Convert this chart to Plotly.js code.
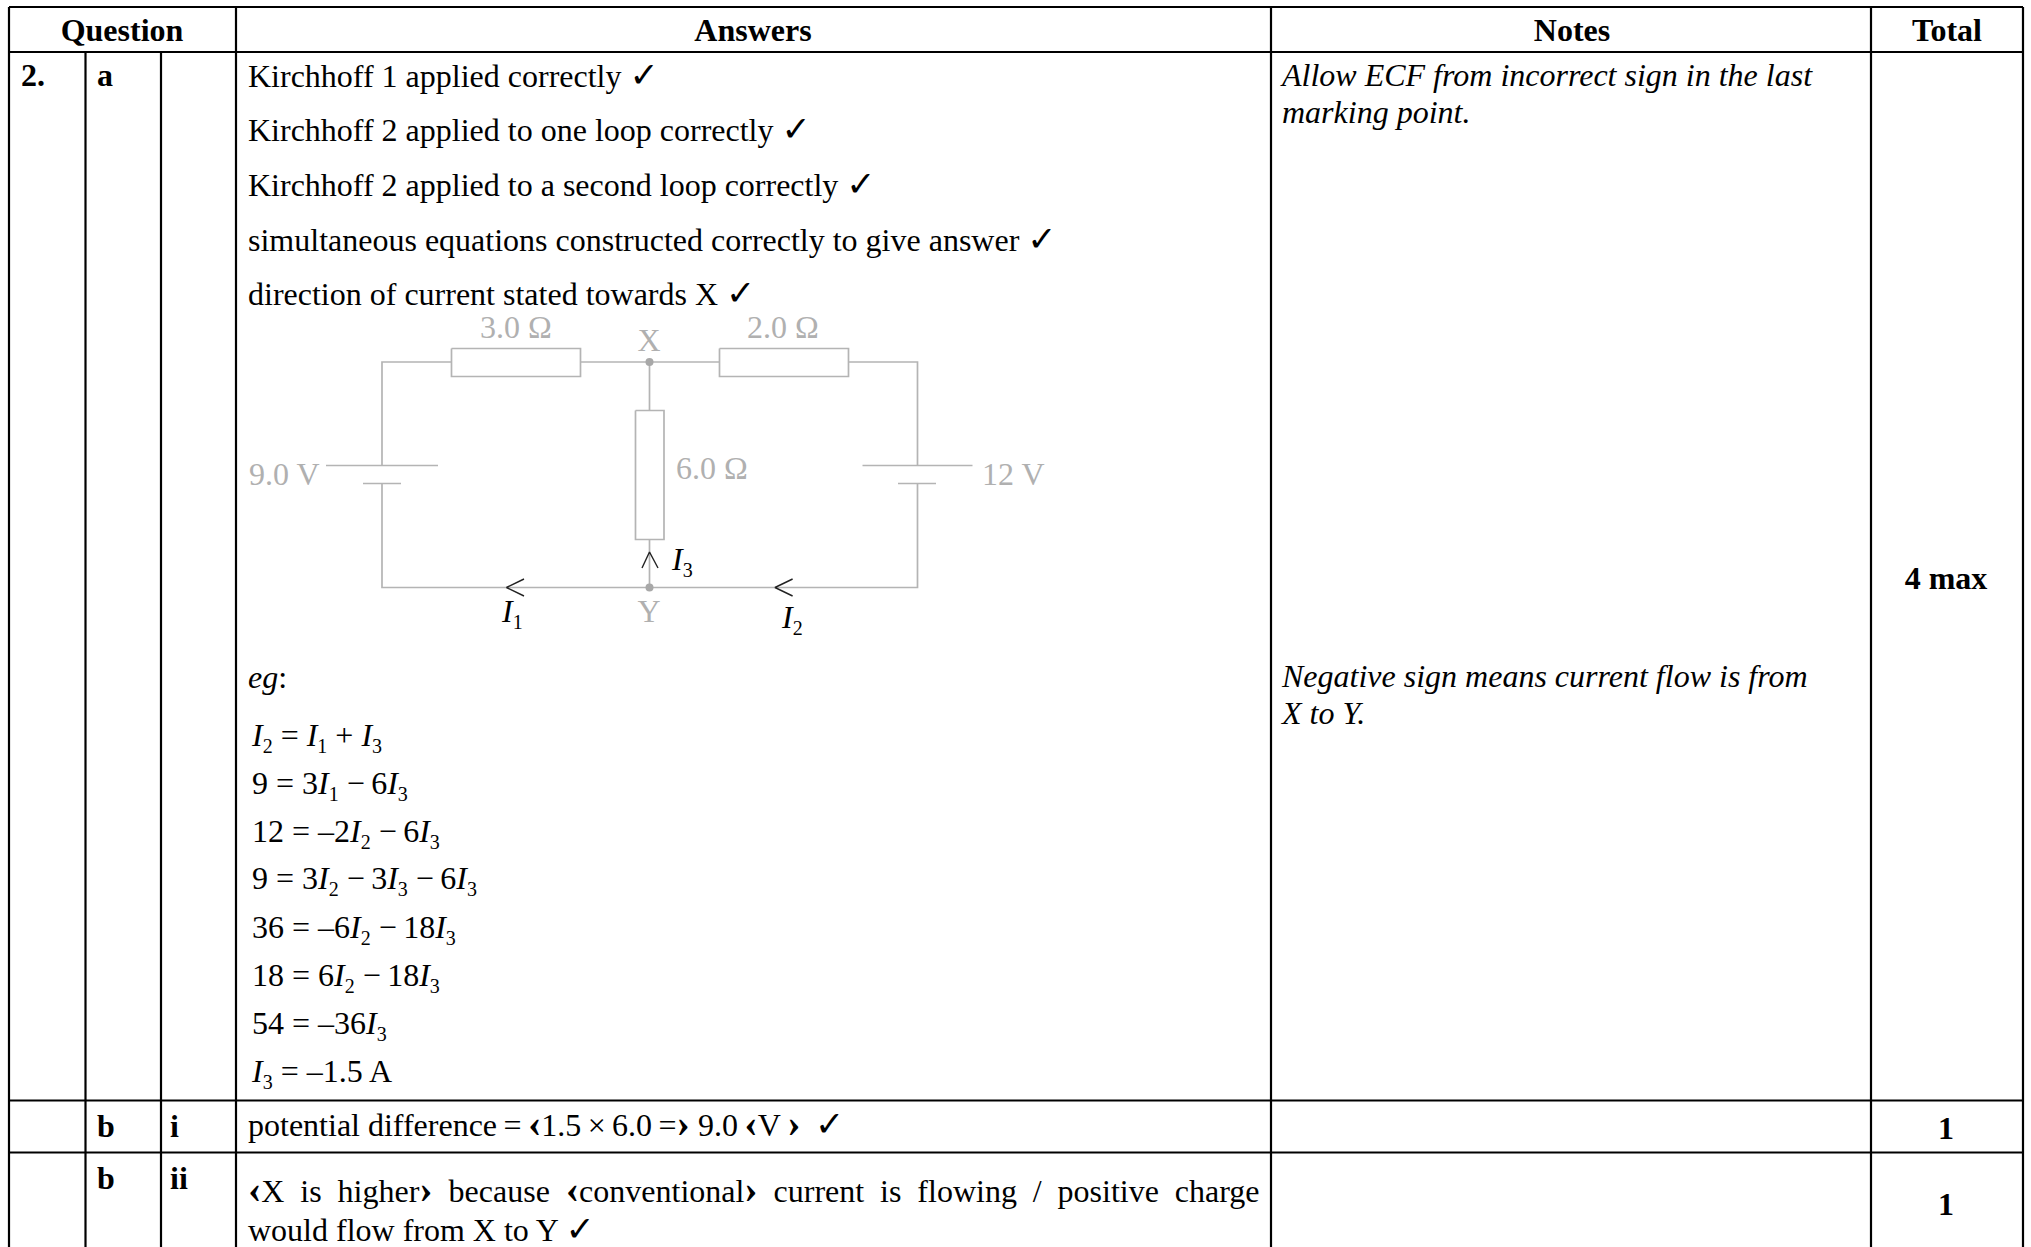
<!DOCTYPE html>
<html><head><meta charset="utf-8">
<script src="https://cdn.plot.ly/plotly-3.0.1.min.js"></script>
<style>html,body{margin:0;padding:0;background:#fff}#c{width:2031px;height:1247px}</style>
</head><body><div id="c"></div>
<script>
const CHECK = ' <span style="font-family:\'DejaVu Sans\';font-weight:bold;font-size:35px">✓</span>';
const ang = c => '<span style="font-weight:bold;font-size:40px">' + c + '</span>';
const OPEN = ang('‹'), CLOSE = ang('›');
const I = n => '<i>I</i><sub><span style="font-size:20px">' + n + '</span></sub>';
const MINUS = ' −\u2009';

// table text
const headers = ['Question', 'Answers', 'Notes', 'Total'];
const answerLines = [
  'Kirchhoff 1 applied correctly' + CHECK,
  'Kirchhoff 2 applied to one loop correctly' + CHECK,
  'Kirchhoff 2 applied to a second loop correctly' + CHECK,
  'simultaneous equations constructed correctly to give answer' + CHECK,
  'direction of current stated towards X' + CHECK
];
const workingLabel = '<i>eg</i>:';
const equations = [
  I(2) + ' = ' + I(1) + ' + ' + I(3),
  '9 = 3' + I(1) + MINUS + '6' + I(3),
  '12 = –2' + I(2) + MINUS + '6' + I(3),
  '9 = 3' + I(2) + MINUS + '3' + I(3) + MINUS + '6' + I(3),
  '36 = –6' + I(2) + MINUS + '18' + I(3),
  '18 = 6' + I(2) + MINUS + '18' + I(3),
  '54 = –36' + I(3),
  I(3) + ' = –1.5 A'
];
const noteLines = [
  '<i>Allow ECF from incorrect sign in the last</i>',
  '<i>marking point.</i>',
  '<i>Negative sign means current flow is from</i>',
  '<i>X to Y.</i>'
];
const questionLabels = ['<b>2.</b>', '<b>a</b>', '<b>b</b>', '<b>i</b>', '<b>b</b>', '<b>ii</b>'];
const totals = ['<b>4 max</b>', '<b>1</b>', '<b>1</b>'];
const partBi = 'potential difference\u2009=\u2009' + OPEN + '1.5\u2009×\u20096.0\u2009=' + CLOSE + ' 9.0\u2009' + OPEN + 'V\u2009' + CLOSE + '\u2009' + CHECK;
const partBii = [
  '<span style="word-spacing:7.9px">' + OPEN + 'X is higher' + CLOSE + ' because ' + OPEN + 'conventional' + CLOSE + ' current is flowing / positive charge</span>',
  'would flow from X to Y' + CHECK
];
// circuit labels
const greyLabels = ['3.0 Ω', 'X', '2.0 Ω', '6.0 Ω', '9.0 V', '12 V', 'Y'];
const currentLabels = [I(3), I(1), I(2)];

// table geometry
const colX = [9, 85.5, 161, 236, 1271, 1871, 2023];
const rowY = [7, 52, 1100.5, 1152.5, 1247];

// circuit geometry
const wTop = 362, wBot = 587.5, wL = 382, wR = 917.5, wM = 649.5;
function seg(pts){ const x=[],y=[]; pts.forEach(p=>{ p.forEach(q=>{x.push(q[0]);y.push(q[1]);}); x.push(null); y.push(null); }); return {x,y}; }

const grid = seg([
  ...rowY.slice(0,4).map(y=>[[colX[0],y],[colX[6],y]]),
  [[colX[0],rowY[0]],[colX[0],rowY[4]]],
  [[colX[1],rowY[1]],[colX[1],rowY[4]]],
  [[colX[2],rowY[1]],[colX[2],rowY[4]]],
  [[colX[3],rowY[0]],[colX[3],rowY[4]]],
  [[colX[4],rowY[0]],[colX[4],rowY[4]]],
  [[colX[5],rowY[0]],[colX[5],rowY[4]]],
  [[colX[6],rowY[0]],[colX[6],rowY[4]]]
]);
const circuit = seg([
  [[wL,465.5],[wL,wTop],[451.5,wTop]], [[451.5,348.5],[580.5,348.5],[580.5,376.5],[451.5,376.5],[451.5,348.5]],
  [[580.5,wTop],[719.5,wTop]], [[719.5,348.5],[848.5,348.5],[848.5,376.5],[719.5,376.5],[719.5,348.5]],
  [[848.5,wTop],[wR,wTop],[wR,465.5]], [[862.5,465.5],[972.5,465.5]], [[898,483.5],[936,483.5]],
  [[wR,483.5],[wR,wBot],[wL,wBot],[wL,483.5]], [[326,465.5],[438,465.5]], [[363,483.5],[401,483.5]],
  [[wM,wTop],[wM,410.5]], [[635.5,410.5],[664,410.5],[664,539.5],[635.5,539.5],[635.5,410.5]], [[wM,539.5],[wM,wBot]]
]);
const arrows = seg([
  [[524,579],[506.5,587.5],[524,596]],
  [[792.6,579],[775,587.5],[792.6,596]],
  [[642,568],[649.5,552],[658,568]]
]);

const FS = 32;
function textTrace(texts, xs, baselines, pos, size, color){
  const shift = 0.22 * size;
  return {type:'scatter', mode:'text', x:xs, y:baselines.map(b=>b-shift), text:texts,
    textposition:pos, cliponaxis:false, hoverinfo:'skip', showlegend:false,
    textfont:{family:'"Liberation Serif", serif', size:size, color:color}};
}
const rep = (v,a) => a.map(()=>v);

const traces = [
  {type:'scatter',mode:'lines',x:circuit.x,y:circuit.y,line:{color:'#b4b4b4',width:1.7},hoverinfo:'skip',showlegend:false},
  {type:'scatter',mode:'markers',x:[wM,wM],y:[wTop,wBot],marker:{color:'#a8a8a8',size:8},hoverinfo:'skip',showlegend:false},
  {type:'scatter',mode:'lines',x:arrows.x,y:arrows.y,line:{color:'#222',width:1.4},hoverinfo:'skip',showlegend:false},
  {type:'scatter',mode:'lines',x:grid.x,y:grid.y,line:{color:'#000',width:2.2},hoverinfo:'skip',showlegend:false},
  textTrace(headers.map(h=>'<b>'+h+'</b>'), [122,753,1572,1947], rep(40,headers), 'middle center', FS, '#000'),
  textTrace(answerLines, rep(248,answerLines), [86,140,195,250,304], 'middle right', FS, '#000'),
  textTrace([workingLabel], [248], [687], 'middle right', FS, '#000'),
  textTrace(equations, rep(252,equations), [745.5,793.5,841.5,888.5,937.5,985.5,1033.5,1081.5], 'middle right', FS, '#000'),
  textTrace(noteLines, rep(1282,noteLines), [85.5,122,686.5,723.5], 'middle right', FS, '#000'),
  textTrace(questionLabels, [21,97,97,170,97,170], [85,85,1136,1136,1188,1188], 'middle right', FS, '#000'),
  textTrace(totals, rep(1946,totals), [588,1138,1214], 'middle center', FS, '#000'),
  textTrace([partBi], [248], [1135], 'middle right', FS, '#000'),
  textTrace(partBii, [248,248], [1201,1240], 'middle right', FS, '#000'),
  textTrace(greyLabels, [516,649,783,676,249,982,649], [337,350,337,478,484,484,621.5],
    ['middle center','middle center','middle center','middle right','middle right','middle right','middle center'], FS, '#b0b0b0'),
  textTrace(currentLabels, [672,502,782], [569,621,627], 'middle right', FS, '#000')
];
Plotly.newPlot('c', traces, {
  width:2031, height:1247, margin:{l:0,r:0,t:0,b:0}, showlegend:false, hovermode:false,
  paper_bgcolor:'#fff', plot_bgcolor:'#fff',
  xaxis:{range:[0,2031],visible:false,fixedrange:true},
  yaxis:{range:[1247,0],visible:false,fixedrange:true}
},{displayModeBar:false,staticPlot:true});
</script></body></html>
